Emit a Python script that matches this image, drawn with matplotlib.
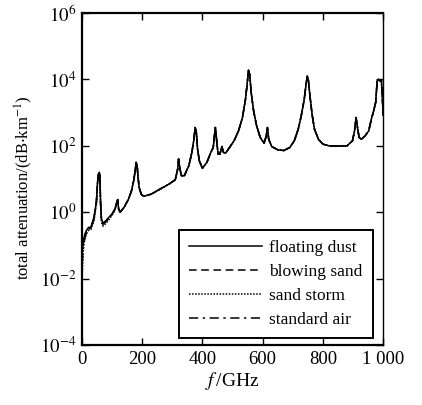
import numpy as np
import matplotlib
matplotlib.use('Agg')
import matplotlib.pyplot as plt
from matplotlib.ticker import FixedLocator

plt.rcParams['font.family'] = ['Liberation Serif', 'DejaVu Serif']
plt.rcParams['mathtext.fontset'] = 'stix'

# low frequency part (GHz) where the four curves differ
f_low = [1, 5, 10, 15, 22, 30, 40, 48]
dust_low = [0.089, 0.14, 0.22, 0.28, 0.35, 0.35, 0.71, 2.0]
blow_low = [0.07, 0.12, 0.2, 0.26, 0.33, 0.34, 0.65, 1.9]
storm_low = [0.012, 0.08, 0.16, 0.22, 0.28, 0.3, 0.55, 1.7]
air_low = [0.03, 0.09, 0.17, 0.24, 0.31, 0.33, 0.62, 1.8]

# part just after the 60 GHz line
f_mid = [52, 55, 58, 60, 62, 65, 70, 80, 90, 100, 110]
dust_mid = [7.9, 14, 16, 12.6, 2.0, 0.63, 0.47, 0.56, 0.71, 0.89, 1.26]
blow_mid = [7.9, 14, 16, 12.6, 2.0, 0.6, 0.45, 0.54, 0.69, 0.87, 1.24]
storm_mid = [7.5, 13, 15, 12, 1.8, 0.5, 0.38, 0.46, 0.6, 0.8, 1.15]
air_mid = [7.8, 14, 16, 12.4, 1.9, 0.58, 0.43, 0.52, 0.66, 0.85, 1.22]

# high frequency part, shared by all curves
f_high = [116, 119, 122, 127, 140, 155, 165, 172, 177, 180, 183, 186, 190, 197,
          205, 230, 260, 290, 310, 318, 321, 325, 330, 340, 355, 365, 372, 376,
          380, 384, 390, 400, 415, 428, 436, 440, 443, 447, 452, 458, 465, 470,
          477, 490, 505, 520, 533, 543, 549, 553, 557, 562, 570, 580, 592, 605,
          612, 616, 620, 630, 650, 670, 690, 705, 718, 728, 738, 744, 748, 752,
          757, 764, 772, 785, 800, 820, 850, 880, 898, 905, 910, 914, 920, 928,
          940, 952, 962, 967, 975, 980, 985, 990, 994, 997, 1000]
att_high = [2.0, 2.4, 1.26, 1.0, 1.4, 2.5, 4.5, 8.9, 17.8, 31.6, 28, 12.6, 5.6, 3.5,
            3.0, 3.5, 5.0, 7.1, 9.5, 20, 40, 22, 12.6, 12.6, 25, 63, 158, 355,
            251, 79, 35, 21, 32, 63, 89, 200, 355, 158, 56, 56, 95, 63,
            60, 89, 141, 282, 708, 2512, 7943, 19000, 14100, 3980, 1120, 398, 178, 120,
            200, 355, 158, 95, 76, 72, 89, 141, 316, 794, 2512, 7080, 12600, 8910,
            3160, 891, 316, 158, 112, 100, 98, 100, 141, 282, 708, 398, 178, 158,
            200, 282, 708, 1000, 2000, 8910, 10000, 8910, 9550, 3160, 832]

freq = f_low + f_mid + f_high
series = [
    ('floating dust', dust_low + dust_mid + att_high, '-'),
    ('blowing sand', blow_low + blow_mid + att_high, (0, (5, 3))),
    ('sand storm', storm_low + storm_mid + att_high, (0, (1, 1))),
    ('standard air', air_low + air_mid + att_high, (0, (6, 3, 1.5, 3))),
]

fig = plt.figure(figsize=(4.22, 4.05), dpi=100)
ax = fig.add_axes([0.194, 0.148, 0.714, 0.82])

handles = []
for label, vals, ls in series[::-1]:
    h, = ax.plot(freq, vals, color='black', linestyle=ls, linewidth=1.1, label=label)
    handles.append(h)
handles = handles[::-1]

ax.set_yscale('log')
ax.set_xlim(0, 1000)
ax.set_ylim(1e-4, 1e6)
ax.yaxis.set_major_locator(FixedLocator([1e-4, 1e-2, 1e0, 1e2, 1e4, 1e6]))
ax.yaxis.set_minor_locator(FixedLocator([]))
ax.set_yticklabels([r'$10^{-4}$', r'$10^{-2}$', r'$10^{0}$', r'$10^{2}$', r'$10^{4}$', r'$10^{6}$'])
ax.set_xticks([0, 200, 400, 600, 800, 1000])
ax.set_xticklabels(['0', '200', '400', '600', '800', '1 000'])
ax.tick_params(direction='in', top=True, right=True, labelsize=13.5, length=5, width=1, pad=4)

for s in ['left', 'bottom', 'top']:
    ax.spines[s].set_linewidth(1.6)
ax.spines['right'].set_linewidth(1.0)

ax.set_xlabel(r'$f\,$/GHz', fontsize=14, labelpad=2)
ax.set_ylabel(r'total attenuation/(dB$\cdot$km$^{-1}$)', fontsize=12)
ax.yaxis.set_label_coords(-0.155, 0.475)

leg = ax.legend(handles=handles, loc='lower right', bbox_to_anchor=(0.965, 0.02),
                fontsize=12.5, handlelength=4.2, handletextpad=0.4, labelspacing=0.45,
                fancybox=False, edgecolor='black', framealpha=1, borderpad=0.6,
                borderaxespad=0.0)
leg.get_frame().set_linewidth(1.4)

fig.savefig('out.png', dpi=100)
